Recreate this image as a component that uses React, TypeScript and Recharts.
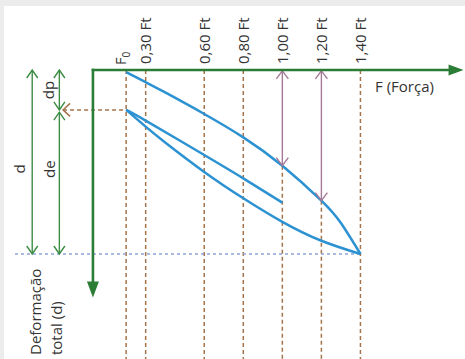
import React from 'react';
import { ComposedChart, Line, XAxis, YAxis, ReferenceLine } from 'recharts';

// ---------- data ----------
const forceTicks = [0.2, 0.3, 0.6, 0.8, 1.0, 1.2, 1.4];
const forceTickLabels = ['F0', '0,30 Ft', '0,60 Ft', '0,80 Ft', '1,00 Ft', '1,20 Ft', '1,40 Ft'];

const loadingForce = [0.2, 0.3, 0.4, 0.6, 0.8, 1.0, 1.2, 1.3, 1.4];
const loadingDeform = [0.011, 0.066, 0.122, 0.239, 0.366, 0.52, 0.71, 0.832, 1.0];

const reloadForce = [0.2, 0.3, 0.6, 0.8, 1.0];
const reloadDeform = [0.217, 0.275, 0.462, 0.589, 0.721];

const unloadForce = [0.2, 0.3, 0.4, 0.6, 0.8, 1.0, 1.2, 1.4];
const unloadDeform = [0.217, 0.308, 0.394, 0.554, 0.697, 0.825, 0.928, 1.0];

const arrowForces = [1.0, 1.2];
const arrowDeforms = [0.52, 0.71];

const F0 = 0.2;
const FMAX = 1.4;
const D_PERMANENT = 0.217;
const D_TOTAL = 1.0;

// ---------- layout ----------
const W = 465;
const H = 359;
const X_DOMAIN: [number, number] = [-0.446, 1.9355];
const Y_DOMAIN: [number, number] = [-0.3804, 1.5707];
const AXIS_F_START = 0.03;
const AXIS_F_TIP = 1.928;
const AXIS_D_TIP = 1.236;
const DIM_D_X = -0.281;
const DIM_DP_X = -0.142;
const LEADER_TIP_X = -0.123;
const DOTTED_START_X = -0.369;
const TICK_LABEL_BOTTOM = 64;

// ---------- styles ----------
const FONT = '"Open Sans", "DejaVu Sans", sans-serif';
const TEXT = '#333333';
const GREEN = '#2b7d36';
const GREEN_THIN = '#3d8d44';
const BLUE = '#2c92d2';
const BROWN = '#a4744c';
const MAUVE = '#a57a98';
const DOTTED = '#8ea2d8';

const zip = (fs: number[], ds: number[]) => fs.map((f, i) => ({ f, d: ds[i] }));
const loadingData = zip(loadingForce, loadingDeform);
const reloadData = zip(reloadForce, reloadDeform);
const unloadData = zip(unloadForce, unloadDeform);

type HeadKind = 'open' | 'filled' | 'none';
interface ArrowOpts {
  stroke: string;
  width: number;
  start: HeadKind;
  end: HeadKind;
  len: number;
  half: number;
  dash?: string;
  cap?: 'butt' | 'square' | 'round';
}

const makeArrow = (o: ArrowOpts) => (p: any) => {
  const x1 = Number(p.x1), y1 = Number(p.y1), x2 = Number(p.x2), y2 = Number(p.y2);
  const dx = x2 - x1, dy = y2 - y1;
  const L = Math.hypot(dx, dy) || 1;
  const ux = dx / L, uy = dy / L;
  const nx = -uy, ny = ux;
  const head = (tx: number, ty: number, dirx: number, diry: number, kind: HeadKind, key: string) => {
    if (kind === 'none') return null;
    const bx = tx - dirx * o.len, by = ty - diry * o.len;
    const pts = `${bx + nx * o.half},${by + ny * o.half} ${tx},${ty} ${bx - nx * o.half},${by - ny * o.half}`;
    return kind === 'filled' ? (
      <polygon key={key} points={pts} fill={o.stroke} stroke="none" />
    ) : (
      <polyline key={key} points={pts} fill="none" stroke={o.stroke} strokeWidth={o.width} />
    );
  };
  let sx = x1, sy = y1, ex = x2, ey = y2;
  if (o.start === 'filled') { sx += ux * o.len * 0.8; sy += uy * o.len * 0.8; }
  if (o.end === 'filled') { ex -= ux * o.len * 0.8; ey -= uy * o.len * 0.8; }
  return (
    <g>
      <line x1={sx} y1={sy} x2={ex} y2={ey} stroke={o.stroke} strokeWidth={o.width}
        strokeDasharray={o.dash} strokeLinecap={o.cap || 'butt'} />
      {head(x1, y1, -ux, -uy, o.start, 's')}
      {head(x2, y2, ux, uy, o.end, 'e')}
    </g>
  );
};

const rotText = (x: number, y: number, content: React.ReactNode, anchor: 'start' | 'middle' | 'end', size = 15, key?: string) => (
  <text key={key} x={x} y={y} transform={`rotate(-90 ${x} ${y})`} textAnchor={anchor}
    fill={TEXT} fontSize={size} fontFamily={FONT}>{content}</text>
);

const tickLabel = (idx: number) => (p: any) => {
  const x = p.viewBox.x;
  const label = forceTickLabels[idx];
  if (idx === 0) {
    const y = TICK_LABEL_BOTTOM + 1;
    return (
      <text x={x} y={y} transform={`rotate(-90 ${x} ${y})`} textAnchor="start" fill={TEXT}
        fontSize={14.5} fontFamily={FONT}>
        {label.charAt(0)}
        <tspan dy={4} fontSize={10}>{label.slice(1)}</tspan>
      </text>
    );
  }
  return rotText(x + 5.8, TICK_LABEL_BOTTOM, label, 'start', 15);
};

export default function App() {
  return (
    <div style={{ position: 'absolute', left: 0, top: 0, width: W, height: H, background: '#ececec', overflow: 'hidden' }}>
      <div style={{ position: 'absolute', left: 4, top: 6, right: 0, bottom: 0, background: '#ffffff' }} />
      <div style={{ position: 'absolute', left: 0, top: 0 }}>
        <ComposedChart width={W} height={H} margin={{ top: 0, right: 0, bottom: 0, left: 0 }}>
          <XAxis type="number" dataKey="f" domain={X_DOMAIN} allowDataOverflow hide />
          <YAxis type="number" domain={Y_DOMAIN} allowDataOverflow reversed hide />

          {/* brown dashed verticals + rotated force labels */}
          {forceTicks.map((f, i) => {
            const ai = arrowForces.indexOf(f);
            const startD = ai >= 0 ? arrowDeforms[ai] : 0;
            return (
              <ReferenceLine key={`v${f}`} segment={[{ x: f, y: startD }, { x: f, y: Y_DOMAIN[1] }]}
                stroke={BROWN} strokeWidth={1.5} strokeDasharray="4 3" label={tickLabel(i)} />
            );
          })}

          {/* blue dotted total deformation line */}
          <ReferenceLine segment={[{ x: DOTTED_START_X, y: D_TOTAL }, { x: FMAX, y: D_TOTAL }]}
            stroke={DOTTED} strokeWidth={1.5} strokeDasharray="3 3" />

          {/* brown leader at permanent deformation */}
          <ReferenceLine segment={[{ x: LEADER_TIP_X, y: D_PERMANENT }, { x: F0, y: D_PERMANENT }]}
            shape={makeArrow({ stroke: BROWN, width: 1.5, start: 'open', end: 'none', len: 7, half: 6.5, dash: '4 3' })} />

          {/* curves */}
          <Line data={loadingData} dataKey="d" type="natural" stroke={BLUE} strokeWidth={2.5}
            dot={false} activeDot={false} isAnimationActive={false} />
          <Line data={reloadData} dataKey="d" type="natural" stroke={BLUE} strokeWidth={2.5}
            dot={false} activeDot={false} isAnimationActive={false} />
          <Line data={unloadData} dataKey="d" type="natural" stroke={BLUE} strokeWidth={2.5}
            dot={false} activeDot={false} isAnimationActive={false} />

          {/* mauve double arrows */}
          {arrowForces.map((f, i) => (
            <ReferenceLine key={`a${f}`} segment={[{ x: f, y: 0.005 }, { x: f, y: arrowDeforms[i] }]}
              shape={makeArrow({ stroke: MAUVE, width: 1.4, start: 'open', end: 'open', len: 8, half: 6 })} />
          ))}

          {/* left dimension lines */}
          <ReferenceLine segment={[{ x: DIM_D_X, y: 0 }, { x: DIM_D_X, y: D_TOTAL }]}
            shape={makeArrow({ stroke: GREEN_THIN, width: 1.4, start: 'open', end: 'open', len: 8, half: 5.5 })}
            label={(p: any) => rotText(p.viewBox.x - 7, p.viewBox.y + p.viewBox.height / 2 + 7, 'd', 'middle', 15)} />
          <ReferenceLine segment={[{ x: DIM_DP_X, y: 0 }, { x: DIM_DP_X, y: D_PERMANENT }]}
            shape={makeArrow({ stroke: GREEN_THIN, width: 1.4, start: 'open', end: 'open', len: 8, half: 5.5 })}
            label={(p: any) => rotText(p.viewBox.x - 5, p.viewBox.y + p.viewBox.height / 2, 'dp', 'middle', 15)} />
          <ReferenceLine segment={[{ x: DIM_DP_X, y: D_PERMANENT + 0.012 }, { x: DIM_DP_X, y: D_TOTAL }]}
            shape={makeArrow({ stroke: GREEN_THIN, width: 1.4, start: 'open', end: 'open', len: 8, half: 5.5 })}
            label={(p: any) => rotText(p.viewBox.x - 4.5, p.viewBox.y + 57, 'de', 'middle', 15)} />

          {/* green axes */}
          <ReferenceLine segment={[{ x: AXIS_F_START, y: 0 }, { x: AXIS_F_TIP, y: 0 }]}
            shape={makeArrow({ stroke: GREEN, width: 2.6, start: 'none', end: 'filled', len: 15, half: 5.5, cap: 'square' })}
            label={(p: any) => (
              <text x={p.viewBox.x + p.viewBox.width - 88.5} y={p.viewBox.y + 22} fill={TEXT}
                fontSize={15} fontFamily={FONT}>F (Força)</text>
            )} />
          <ReferenceLine segment={[{ x: AXIS_F_START, y: 0 }, { x: AXIS_F_START, y: AXIS_D_TIP }]}
            shape={makeArrow({ stroke: GREEN, width: 2.6, start: 'none', end: 'filled', len: 16, half: 6, cap: 'square' })}
            label={(p: any) => (
              <g>
                {rotText(p.viewBox.x - 52, p.viewBox.y + 285, 'Deformação', 'start', 15, 'l1')}
                {rotText(p.viewBox.x - 31, p.viewBox.y + 285, 'total (d)', 'start', 15, 'l2')}
              </g>
            )} />
        </ComposedChart>
      </div>
    </div>
  );
}
